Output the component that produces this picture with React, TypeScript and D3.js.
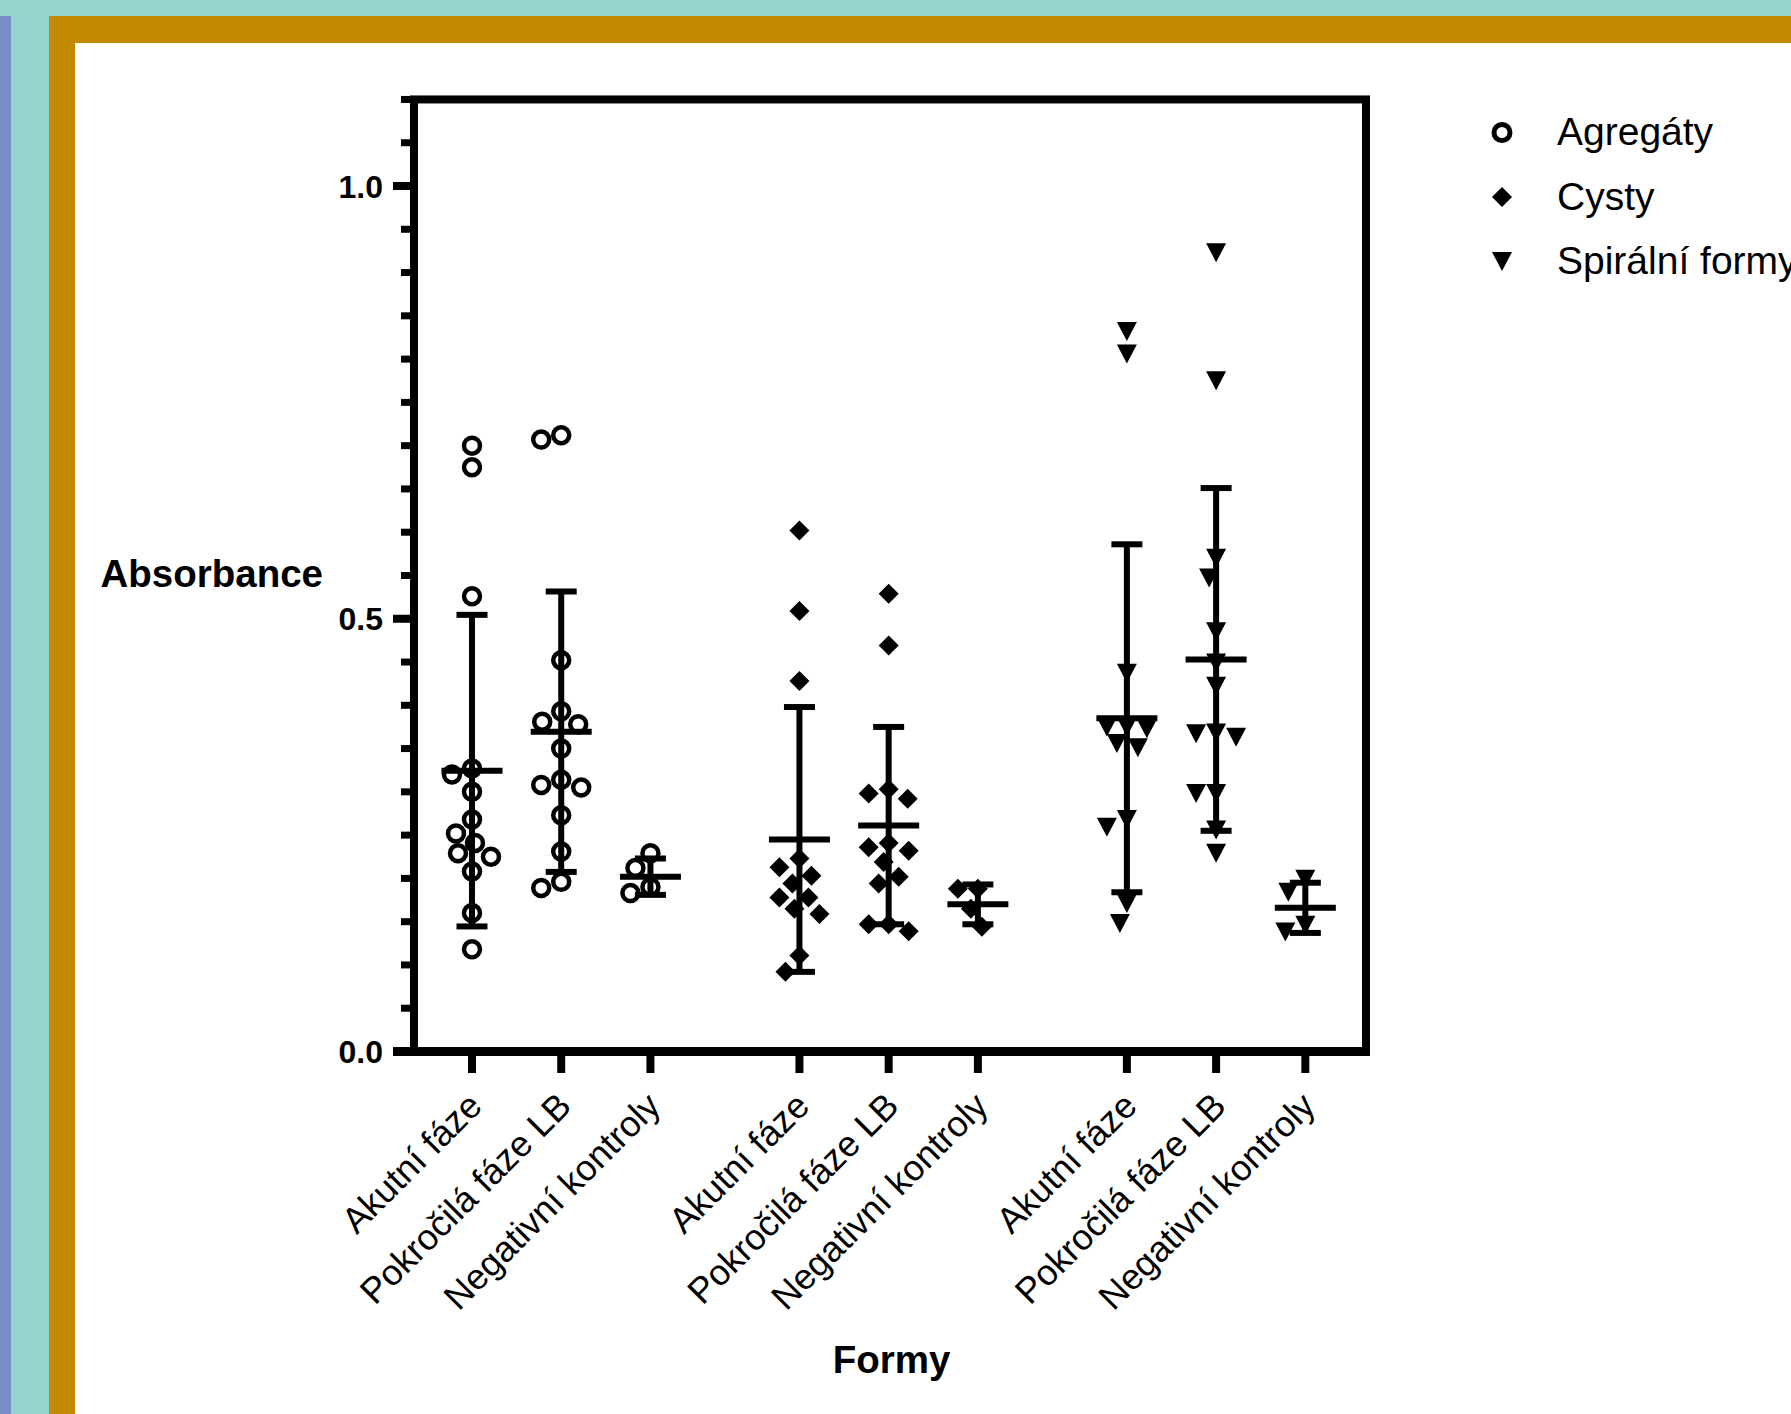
import React from 'react';
import * as d3 from 'd3';

// ---------- data ----------
const groups = ['Agregáty', 'Cysty', 'Spirální formy'];
const categories = ['Akutní fáze', 'Pokročilá fáze LB', 'Negativní kontroly'];

const agregatyAkutni = [0.700, 0.675, 0.526, 0.327, 0.320, 0.300, 0.268, 0.252, 0.241, 0.229, 0.225, 0.208, 0.160, 0.118];
const agregatyPokrocila = [0.712, 0.707, 0.452, 0.393, 0.381, 0.378, 0.350, 0.314, 0.308, 0.305, 0.273, 0.231, 0.196, 0.189];
const agregatyNegativni = [0.229, 0.212, 0.190, 0.183];

const cystyAkutni = [0.602, 0.509, 0.428, 0.223, 0.213, 0.203, 0.194, 0.178, 0.178, 0.165, 0.159, 0.111, 0.092];
const cystyPokrocila = [0.529, 0.469, 0.303, 0.298, 0.292, 0.241, 0.236, 0.232, 0.219, 0.202, 0.194, 0.147, 0.147, 0.139];
const cystyNegativni = [0.188, 0.188, 0.165, 0.144];

const spiralniAkutni = [0.832, 0.806, 0.437, 0.375, 0.375, 0.373, 0.356, 0.351, 0.268, 0.259, 0.171, 0.148];
const spiralniPokrocila = [0.923, 0.775, 0.570, 0.547, 0.485, 0.449, 0.422, 0.368, 0.367, 0.363, 0.298, 0.298, 0.256, 0.229];
const spiralniNegativni = [0.199, 0.184, 0.146, 0.138];

// mean and SD per group (rows) and category (columns)
const agregatyMean = [0.3245, 0.3695, 0.202];
const agregatySd = [0.180, 0.162, 0.021];
const cystyMean = [0.245, 0.261, 0.170];
const cystySd = [0.153, 0.114, 0.023];
const spiralniMean = [0.385, 0.453, 0.166];
const spiralniSd = [0.201, 0.198, 0.029];

const yMajorTicks = [0, 0.5, 1.0];

const seriesValues = [
  [agregatyAkutni, agregatyPokrocila, agregatyNegativni],
  [cystyAkutni, cystyPokrocila, cystyNegativni],
  [spiralniAkutni, spiralniPokrocila, spiralniNegativni],
];
const seriesMeans = [agregatyMean, cystyMean, spiralniMean];
const seriesSds = [agregatySd, cystySd, spiralniSd];

// ---------- layout ----------
const W = 1791;
const H = 1414;
const FONT = 'Liberation Sans, Arial, Helvetica, sans-serif';
const GAP = 0.67;

const plotLeft = 414;
const plotRight = 1366;
const y0 = 1051.5;
const unitPx = 865.5;

const yScale = d3.scaleLinear().domain([0, 1.1]).range([y0, y0 - 1.1 * unitPx]);
const xScale = d3.scaleLinear().domain([-0.65, 10.02]).range([plotLeft, plotRight]);
const slot = (g: number, c: number) => g * (3 + GAP) + c;

function swarm(values: number[], cx: number, minDist: number, maxOff: number) {
  const placed: { x: number; y: number }[] = [];
  return values.map((v) => {
    const y = yScale(v);
    let chosen: number | null = null;
    let best = 0;
    let bestD = -1;
    for (let k = 0; k <= maxOff && chosen === null; k++) {
      const cands = k === 0 ? [0] : [-k, k];
      for (const off of cands) {
        const d = placed.length
          ? Math.min(...placed.map((p) => Math.hypot(p.x - (cx + off), p.y - y)))
          : Infinity;
        if (d >= minDist) {
          chosen = off;
          break;
        }
        if (d > bestD + 0.5) {
          bestD = d;
          best = off;
        }
      }
    }
    const pt = { x: cx + (chosen === null ? best : chosen), y };
    placed.push(pt);
    return pt;
  });
}

function Marker({ kind, x, y, legend }: { kind: number; x: number; y: number; legend?: boolean }) {
  if (kind === 0) {
    return <circle cx={x} cy={y} r={8} fill="none" stroke="#000" strokeWidth={legend ? 5 : 4.5} />;
  }
  if (kind === 1) {
    const h = 10;
    return <path d={`M${x},${y - h}L${x + h},${y}L${x},${y + h}L${x - h},${y}Z`} fill="#000" />;
  }
  const hw = 10;
  const hh = 9.5;
  return <path d={`M${x - hw},${y - hh}L${x + hw},${y - hh}L${x},${y + hh}Z`} fill="#000" />;
}

export default function App() {
  const points: JSX.Element[] = [];
  const bars: JSX.Element[] = [];
  seriesValues.forEach((cats, g) => {
    cats.forEach((vals, c) => {
      const cx = xScale(slot(g, c));
      const pts = swarm(vals, cx, 21, 20);
      pts.forEach((p, i) => points.push(<Marker key={`p${g}-${c}-${i}`} kind={g} x={p.x} y={p.y} />));
      const m = seriesMeans[g][c];
      const s = seriesSds[g][c];
      const yt = yScale(m + s);
      const yb = yScale(m - s);
      const ym = yScale(m);
      bars.push(
        <g key={`b${g}-${c}`} stroke="#000" strokeWidth={6}>
          <line x1={cx} x2={cx} y1={yt} y2={yb} />
          <line x1={cx - 15.5} x2={cx + 15.5} y1={yt} y2={yt} />
          <line x1={cx - 15.5} x2={cx + 15.5} y1={yb} y2={yb} />
          <line x1={cx - 30.5} x2={cx + 30.5} y1={ym} y2={ym} />
        </g>
      );
    });
  });

  const minorTicks = d3.range(0, 1.1001, 0.05);

  return (
    <svg width={W} height={H} style={{ position: 'absolute', left: 0, top: 0, display: 'block' }}>
      {/* background borders */}
      <rect x={0} y={0} width={W} height={H} fill="#96D5CE" />
      <rect x={0} y={16} width={11} height={H - 16} fill="#7A8DC8" />
      <rect x={49} y={16} width={W - 49} height={H - 16} fill="#C48B00" />
      <rect x={75} y={43} width={W - 75} height={H - 43} fill="#FFFFFF" />

      {points}
      {bars}

      {/* frame */}
      <rect
        x={plotLeft}
        y={yScale(1.1)}
        width={plotRight - plotLeft}
        height={y0 - yScale(1.1)}
        fill="none"
        stroke="#000"
        strokeWidth={8}
      />
      <line x1={393} x2={plotRight + 4} y1={y0} y2={y0} stroke="#000" strokeWidth={9} />

      {/* y ticks */}
      {minorTicks.map((t, i) => (
        <line key={`mt${i}`} x1={401} x2={plotLeft} y1={yScale(t)} y2={yScale(t)} stroke="#000" strokeWidth={7} />
      ))}
      {yMajorTicks.map((t, i) => (
        <g key={`Mt${i}`}>
          <line x1={393} x2={plotLeft} y1={yScale(t)} y2={yScale(t)} stroke="#000" strokeWidth={8} />
          <text
            x={383}
            y={yScale(t) + 11.5}
            textAnchor="end"
            fontFamily={FONT}
            fontWeight="bold"
            fontSize={32}
            fill="#000"
          >
            {d3.format('.1f')(t)}
          </text>
        </g>
      ))}

      {/* x ticks and labels */}
      {groups.map((_, g) =>
        categories.map((cat, c) => {
          const x = xScale(slot(g, c));
          return (
            <g key={`xt${g}-${c}`}>
              <line x1={x} x2={x} y1={y0} y2={1073} stroke="#000" strokeWidth={8} />
              <text
                transform={`translate(${x + 12},1108) rotate(-45)`}
                textAnchor="end"
                fontFamily={FONT}
                fontSize={36}
                fill="#000"
              >
                {cat}
              </text>
            </g>
          );
        })
      )}

      {/* axis titles */}
      <text x={100.5} y={586.5} fontFamily={FONT} fontWeight="bold" fontSize={38.5} fill="#000">
        Absorbance
      </text>
      <text x={891.5} y={1373} textAnchor="middle" fontFamily={FONT} fontWeight="bold" fontSize={38.5} fill="#000">
        Formy
      </text>

      {/* legend */}
      {groups.map((name, g) => {
        const my = 132.5 + g * 64.5;
        return (
          <g key={`lg${g}`}>
            <Marker kind={g} x={1502} y={my} legend />
            <text x={1557} y={my + 12.5} fontFamily={FONT} fontSize={39} fill="#000">
              {name}
            </text>
          </g>
        );
      })}
    </svg>
  );
}
